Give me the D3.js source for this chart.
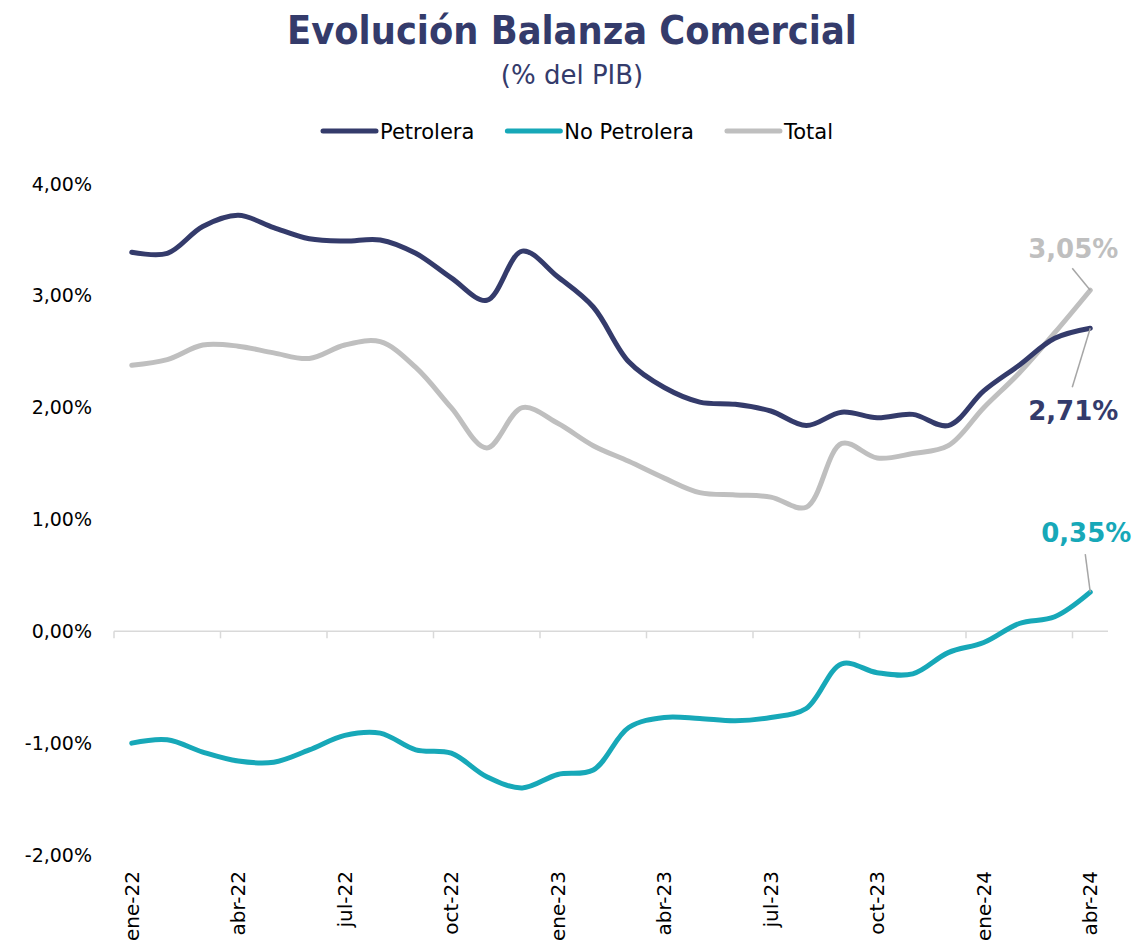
<!DOCTYPE html>
<html>
<head>
<meta charset="utf-8">
<script src="https://cdn.jsdelivr.net/npm/d3@7"></script>
<style>
  body { margin: 0; background: #fff; }
  svg { display: block; font-family: "DejaVu Sans", Verdana, sans-serif; }
</style>
</head>
<body>
<svg id="chart" width="1135" height="947"></svg>
<script>
// months shown on the x axis (one point per month)
const months = ["ene-22","feb-22","mar-22","abr-22","may-22","jun-22","jul-22","ago-22","sep-22","oct-22","nov-22","dic-22",
  "ene-23","feb-23","mar-23","abr-23","may-23","jun-23","jul-23","ago-23","sep-23","oct-23","nov-23","dic-23",
  "ene-24","feb-24","mar-24","abr-24"];

// % del PIB
const petrolera = [3.39,3.38,3.62,3.72,3.61,3.51,3.49,3.50,3.38,3.16,2.96,3.40,3.17,2.90,2.41,2.18,2.05,2.03,1.97,1.84,1.96,1.91,1.94,1.84,2.15,2.38,2.62,2.71];
const noPetrolera = [-1.00,-0.97,-1.08,-1.16,-1.17,-1.06,-0.93,-0.91,-1.06,-1.09,-1.30,-1.40,-1.28,-1.24,-0.86,-0.77,-0.78,-0.80,-0.77,-0.69,-0.29,-0.37,-0.38,-0.19,-0.10,0.07,0.13,0.35];
const total = [2.38,2.43,2.56,2.55,2.49,2.44,2.56,2.59,2.36,2.00,1.64,2.00,1.86,1.66,1.52,1.37,1.24,1.22,1.20,1.11,1.68,1.55,1.59,1.66,2.00,2.31,2.67,3.05];

const yTicks = [-2, -1, 0, 1, 2, 3, 4];

const series = [
  {name: "Petrolera", values: petrolera, color: "#343b6b"},
  {name: "No Petrolera", values: noPetrolera, color: "#17a8b8"},
  {name: "Total", values: total, color: "#bfbfbf"}
];

const locale = d3.formatLocale({decimal: ",", thousands: ".", grouping: [3], currency: ["", "€"], minus: "-"});
const pct = v => locale.format(".2%")(v / 100);

const svg = d3.select("#chart");
const navy = "#343b6b";

const x = d3.scaleBand().domain(months).range([114, 1108]).padding(0);
const y = d3.scaleLinear().domain([-2, 4]).range([855, 184]);
const cx = m => x(m) + x.bandwidth() / 2;

// shrink a text to a given width if it is wider
function fitWidth(sel, size, maxW) {
  sel.each(function() {
    const w = this.getComputedTextLength();
    if (w > maxW) d3.select(this).style("font-size", (size * maxW / w) + "px");
  });
}

// title
svg.append("text")
  .attr("x", 572).attr("y", 44)
  .attr("text-anchor", "middle")
  .attr("fill", navy)
  .style("font-family", '"DejaVu Sans Condensed", "DejaVu Sans", sans-serif')
  .style("font-stretch", "condensed")
  .style("font-weight", "bold")
  .style("font-size", "40px")
  .text("Evolución Balanza Comercial")
  .call(fitWidth, 40, 570);

svg.append("text")
  .attr("x", 572).attr("y", 84)
  .attr("text-anchor", "middle")
  .attr("fill", navy)
  .style("font-size", "26px")
  .text("(% del PIB)")
  .call(fitWidth, 26, 152);

// legend
const legend = svg.append("g");
let lx = 0;
series.forEach(s => {
  const g = legend.append("g").attr("transform", `translate(${lx},0)`);
  g.append("line")
    .attr("x1", 2).attr("x2", 55)
    .attr("y1", 0).attr("y2", 0)
    .attr("stroke", s.color).attr("stroke-width", 5)
    .attr("stroke-linecap", "round");
  const t = g.append("text")
    .attr("x", 59).attr("y", 7.5)
    .style("font-size", "21px")
    .attr("fill", "#000")
    .text(s.name);
  lx += 59 + t.node().getComputedTextLength() + 31;
});
const legendW = lx - 31;
legend.attr("transform", `translate(${577 - legendW / 2},131)`);

// y axis labels
svg.append("g")
  .selectAll("text")
  .data(yTicks)
  .join("text")
    .attr("x", 92)
    .attr("y", d => y(d))
    .attr("dy", "0.35em")
    .attr("text-anchor", "end")
    .style("font-size", "19px")
    .attr("fill", "#000")
    .text(d => pct(d));

// zero line with ticks every 3 months
const axisG = svg.append("g");
axisG.append("line")
  .attr("x1", x.range()[0]).attr("x2", x.range()[1])
  .attr("y1", y(0)).attr("y2", y(0))
  .attr("stroke", "#d9d9d9").attr("stroke-width", 1.5);

const tickMonths = months.filter((m, i) => i % 3 === 0);
axisG.selectAll("line.tick")
  .data(tickMonths)
  .join("line")
    .attr("class", "tick")
    .attr("x1", d => x(d)).attr("x2", d => x(d))
    .attr("y1", y(0)).attr("y2", y(0) + 7)
    .attr("stroke", "#d9d9d9").attr("stroke-width", 1.5);

// month labels, rotated
svg.append("g")
  .selectAll("text")
  .data(tickMonths)
  .join("text")
    .attr("transform", d => `translate(${cx(d)},871) rotate(-90)`)
    .attr("text-anchor", "end")
    .attr("dy", "0.35em")
    .style("font-size", "20px")
    .attr("fill", "#000")
    .text(d => d);

// lines
const line = d3.line()
  .x((d, i) => cx(months[i]))
  .y(d => y(d))
  .curve(d3.curveCatmullRom.alpha(0.5));

// grey first so the dark line sits on top where they cross
[series[2], series[1], series[0]].forEach(s => {
  svg.append("path")
    .datum(s.values)
    .attr("fill", "none")
    .attr("stroke", s.color)
    .attr("stroke-width", 5)
    .attr("stroke-linecap", "round")
    .attr("stroke-linejoin", "round")
    .attr("d", line);
});

// end labels with leader lines
const last = months.length - 1;
const endLabels = [
  {s: series[2], tx: -17, ty: -32, lx: -18, ly: -22},
  {s: series[0], tx: -17, ty: 92, lx: -18, ly: 59},
  {s: series[1], tx: -4, ty: -50, lx: -5, ly: -38}
];
endLabels.forEach(l => {
  const px = cx(months[last]);
  const py = y(l.s.values[last]);
  svg.append("line")
    .attr("x1", px).attr("y1", py)
    .attr("x2", px + l.lx).attr("y2", py + l.ly)
    .attr("stroke", "#a6a6a6").attr("stroke-width", 1.5);
  svg.append("text")
    .attr("x", px + l.tx).attr("y", py + l.ty)
    .attr("text-anchor", "middle")
    .attr("fill", l.s.color)
    .style("font-weight", "bold")
    .style("font-size", "26px")
    .text(pct(l.s.values[last]));
});
</script>
</body>
</html>
